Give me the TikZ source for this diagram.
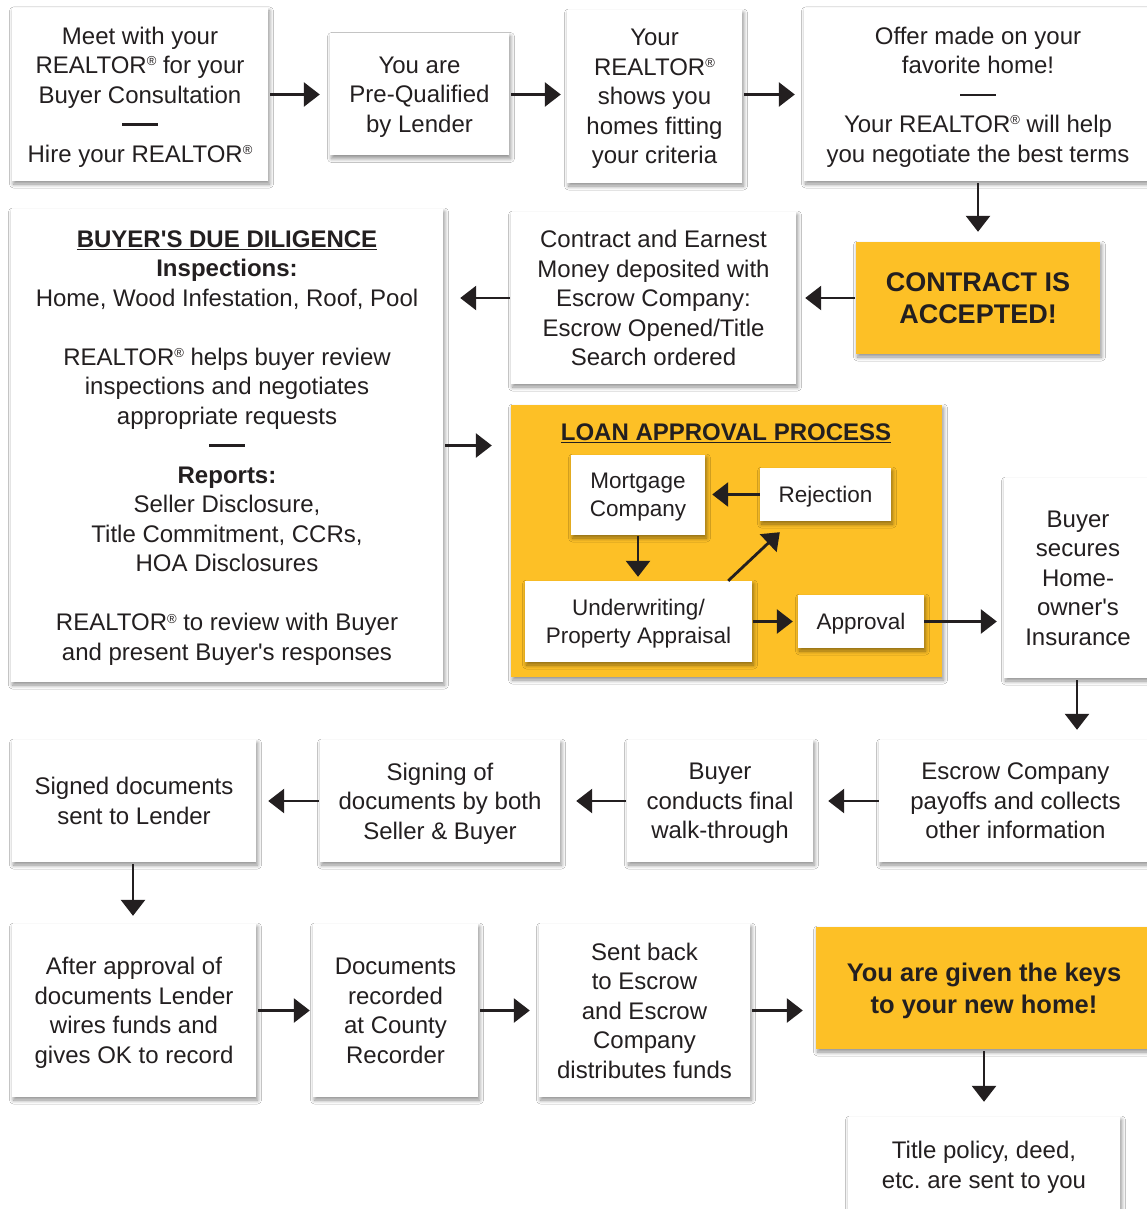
\documentclass[tikz,border=0pt]{standalone}
\usepackage{fontspec}
\setmainfont{Liberation Sans}
\usetikzlibrary{arrows.meta,calc,shadows.blur}
\frenchspacing
\definecolor{txt}{RGB}{35,31,32}
\definecolor{gold}{RGB}{253,192,38}
\newcommand\regm{\raisebox{0.62ex}{\fontsize{13}{13}\selectfont ®}}
\newcommand\sepline{\rule[7pt]{36pt}{2.6pt}}
\newcommand\apos{\textquotesingle}
\tikzset{
  box/.style={fill=white, inner sep=0pt, align=center, text=txt, text depth=0pt,
    font=\fontsize{24}{29.5}\selectfont,
    blur shadow={shadow xshift=1.5pt, shadow yshift=-3pt, shadow blur steps=8, shadow blur radius=4pt, shadow opacity=45}},
  goldbox/.style={box, fill=gold},
  inbox/.style={box, font=\fontsize{22.5}{28}\selectfont},
  arr/.style={draw=txt, line width=2.8pt, -{Triangle[length=16pt,width=24pt]}, shorten <=2pt},
}
\begin{document}
\begin{tikzpicture}[x=1pt,y=-1pt]
\useasboundingbox[fill=white] (0,0) rectangle (1147,1209);
% row 1
\node[box, minimum width=256pt, minimum height=173pt] (b1) at (140,94.5)
  {Meet with your\\REALTOR\regm{} for your\\Buyer Consultation\\\sepline\\Hire your REALTOR\regm};
\node[box, minimum width=179pt, minimum height=122pt] (b2) at (419.5,94.5)
  {You are\\Pre-Qualified\\by Lender};
\node[box, minimum width=175pt, minimum height=173pt] (b3) at (654.5,96.5)
  {Your\\REALTOR\regm\\shows you\\homes fitting\\your criteria};
\node[box, minimum width=348pt, minimum height=173pt] (b4) at (978,94.5)
  {Offer made on your\\favorite home!\\\sepline\\Your REALTOR\regm{} will help\\you negotiate the best terms};
% row 2
\node[goldbox, minimum width=244pt, minimum height=112pt, font=\fontsize{27}{32}\selectfont\bfseries] (ca) at (978,298)
  {CONTRACT IS\\ACCEPTED!};
\node[box, minimum width=285pt, minimum height=172pt] (b5) at (653.5,298)
  {Contract and Earnest\\Money deposited with\\Escrow Company:\\Escrow Opened/Title\\Search ordered};
\node[box, minimum width=432pt, minimum height=473pt] (dd) at (227,445.5)
  {\textbf{\underline{BUYER\apos S DUE DILIGENCE}}\\\textbf{Inspections:}\\Home, Wood Infestation, Roof, Pool\\[29.5pt]
   REALTOR\regm{} helps buyer review\\inspections and negotiates\\appropriate requests\\\sepline\\
   \textbf{Reports:}\\Seller Disclosure,\\Title Commitment, CCRs,\\HOA Disclosures\\[29.5pt]
   REALTOR\regm{} to review with Buyer\\and present Buyer\apos s responses};
% loan approval
\node[goldbox, minimum width=431pt, minimum height=272pt] (loan) at (726.5,541) {};
\node[inner sep=0pt, text=txt, font=\fontsize{24}{29.5}\selectfont\bfseries] (loant) at (726,433)
  {\underline{LOAN APPROVAL PROCESS}};
\node[inbox, minimum width=134pt, minimum height=80pt] (mort) at (638,495) {Mortgage\\Company};
\node[inbox, minimum width=131pt, minimum height=53pt] (rej) at (825.5,494.5) {Rejection};
\node[inbox, minimum width=227pt, minimum height=81pt] (uw) at (638.5,621.5) {Underwriting/\\Property Appraisal};
\node[inbox, minimum width=126pt, minimum height=53pt] (appr) at (861,621.5) {Approval};
\node[box, minimum width=148pt, minimum height=200pt] (bs) at (1078,578)
  {Buyer\\secures\\Home-\\owner\apos s\\Insurance};
% row 4
\node[box, minimum width=273pt, minimum height=122pt] (esc) at (1015.5,801)
  {Escrow Company\\payoffs and collects\\other information};
\node[box, minimum width=186pt, minimum height=122pt] (bc) at (720,801)
  {Buyer\\conducts final\\walk-through};
\node[box, minimum width=240pt, minimum height=122pt] (sign) at (440,801)
  {Signing of\\documents by both\\Seller \& Buyer};
\node[box, minimum width=244pt, minimum height=122pt] (sd) at (134,801)
  {Signed documents\\sent to Lender};
% row 5
\node[box, minimum width=244pt, minimum height=173pt] (after) at (134,1010.5)
  {After approval of\\documents Lender\\wires funds and\\gives OK to record};
\node[box, minimum width=165pt, minimum height=173pt] (docs) at (395.5,1010.5)
  {Documents\\recorded\\at County\\Recorder};
\node[box, minimum width=211pt, minimum height=173pt] (sent) at (644.5,1010.5)
  {Sent back\\to Escrow\\and Escrow\\Company\\distributes funds};
\node[goldbox, minimum width=336pt, minimum height=122pt, font=\fontsize{25.5}{32}\selectfont\bfseries] (keys) at (984,988)
  {You are given the keys\\to your new home!};
\node[box, minimum width=272pt, minimum height=96pt] (title) at (984,1165)
  {Title policy, deed,\\etc. are sent to you};
% arrows
\draw[arr, shorten >=10pt] (b1.east) -- (b2.west);
\draw[arr, shorten >=6pt] (b2.east |- b1.east) -- (b3.west |- b1.east);
\draw[arr, shorten >=9pt] (b3.east |- b1.east) -- (b4.west |- b1.east);
\draw[arr, shorten >=10pt] (b4.south -| ca.north) -- (ca.north);
\draw[arr, shorten <=1pt, shorten >=9pt] (ca.west) -- (b5.east);
\draw[arr, shorten <=1pt, shorten >=17pt] (b5.west) -- (b5.west -| dd.east);
\draw[arr, shorten >=19pt] (dd.east) -- (dd.east -| loan.west);
\draw[arr, shorten <=0pt, shorten >=7pt] (rej.west) -- (rej.west -| mort.east);
\draw[arr, shorten <=1pt, shorten >=4pt] (mort.south) -- (mort.south |- uw.north);
\draw[arr, shorten <=0pt, shorten >=0pt] ($(uw.north east)+(-24,0)$) -- ($(rej.south west)+(20,11)$);
\draw[arr, shorten <=1pt, shorten >=5pt] (uw.east) -- (appr.west);
\draw[arr, shorten <=0pt, shorten >=7pt] (appr.east) -- (appr.east -| bs.west);
\draw[arr, shorten >=10pt] (bs.south -| 1077,0) -- (esc.north -| 1077,0);
\draw[arr, shorten <=0pt, shorten >=15pt] (esc.west) -- (bc.east);
\draw[arr, shorten <=1pt, shorten >=16pt] (bc.west) -- (sign.east);
\draw[arr, shorten <=1pt, shorten >=12pt] (sign.west) -- (sd.east);
\draw[arr, shorten >=8pt] (sd.south -| 133,0) -- (after.north -| 133,0);
\draw[arr, shorten >=3pt] (after.east) -- (docs.west);
\draw[arr, shorten >=9pt] (docs.east) -- (sent.west);
\draw[arr, shorten >=13pt] (sent.east) -- (sent.east -| keys.west);
\draw[arr, shorten >=15pt] (keys.south) -- (keys.south |- title.north);
\end{tikzpicture}
\end{document}
